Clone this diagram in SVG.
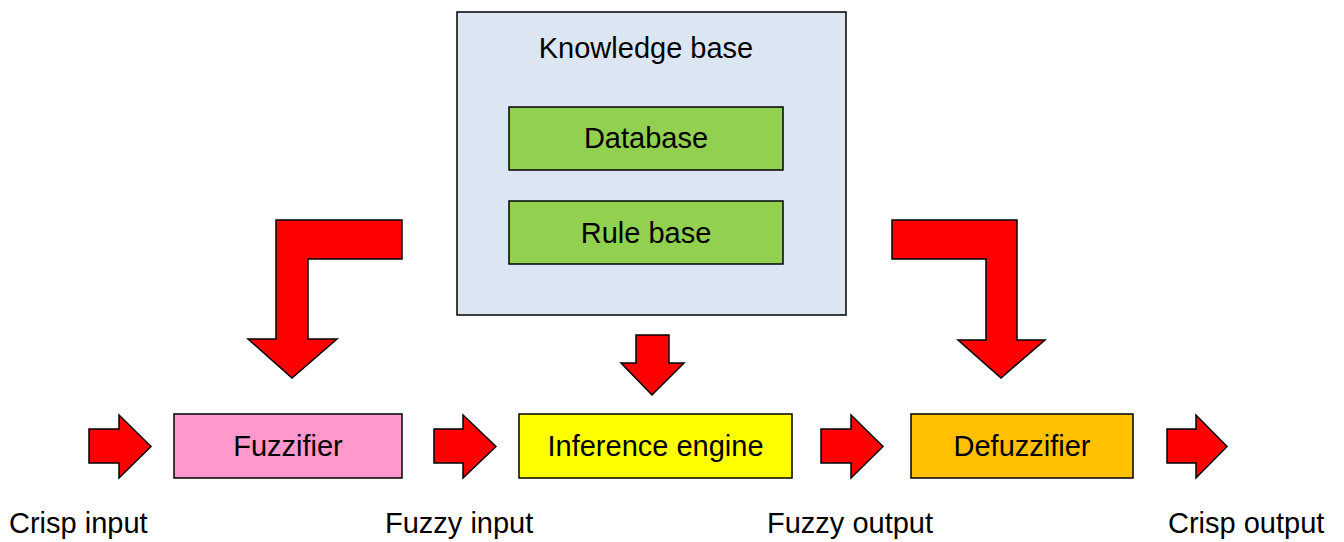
<svg xmlns="http://www.w3.org/2000/svg" width="1344" height="542" viewBox="0 0 1344 542">
  <style>
    .box { stroke: #000; stroke-width: 1.5; }
    .arrow { fill: #FF0000; stroke: #000; stroke-width: 1.5; stroke-linejoin: miter; }
    text { font-family: "Liberation Sans", Arial, sans-serif; font-size: 29px; fill: #000; }
    .c { text-anchor: middle; }
  </style>
  <rect width="1344" height="542" fill="#fff"/>

  <!-- Knowledge base with its two stores -->
  <g id="knowledge-base">
    <rect class="box" x="457" y="12" width="389" height="303" fill="#DCE6F2"/>
    <text class="c" x="646" y="58">Knowledge base</text>
  </g>
  <g id="database">
    <rect class="box" x="509" y="107" width="274" height="63" fill="#92D050"/>
    <text class="c" x="646" y="148">Database</text>
  </g>
  <g id="rule-base">
    <rect class="box" x="509" y="201" width="274" height="63" fill="#92D050"/>
    <text class="c" x="646" y="243">Rule base</text>
  </g>

  <!-- Processing chain -->
  <g id="fuzzifier">
    <rect class="box" x="174" y="414" width="228" height="64" fill="#FF99CC"/>
    <text class="c" x="288" y="456">Fuzzifier</text>
  </g>
  <g id="inference-engine">
    <rect class="box" x="519" y="414" width="273" height="64" fill="#FFFF00"/>
    <text class="c" x="655.5" y="456">Inference engine</text>
  </g>
  <g id="defuzzifier">
    <rect class="box" x="911" y="414" width="222" height="64" fill="#FFC000"/>
    <text class="c" x="1022" y="456">Defuzzifier</text>
  </g>

  <!-- Signal labels -->
  <g id="labels">
    <text x="9" y="533">Crisp input</text>
    <text x="385" y="533">Fuzzy input</text>
    <text x="767" y="533">Fuzzy output</text>
    <text x="1168" y="533">Crisp output</text>
  </g>

  <!-- Block arrows -->
  <g id="connectors">
    <path class="arrow" d="M89,429 H119 V415 L151,446.5 L119,478 V463 H89 Z"/>
    <path class="arrow" d="M434,429 H463 V415 L496,446.5 L463,478 V463 H434 Z"/>
    <path class="arrow" d="M821,429 H851 V415 L883,446.5 L851,478 V463 H821 Z"/>
    <path class="arrow" d="M1167,429 H1196 V415 L1227,446.5 L1196,478 V463 H1167 Z"/>
    <path class="arrow" d="M636,335 H669 V363 H684 L652,395 L621,363 H636 Z"/>
    <path class="arrow" d="M402,220 V259 H308 V339 H337 L292,378 L248,339 H276 V220 Z"/>
    <path class="arrow" d="M892,220 H1017 V340 H1045 L1001,378 L958,340 H986 V259 H892 Z"/>
  </g>
</svg>
